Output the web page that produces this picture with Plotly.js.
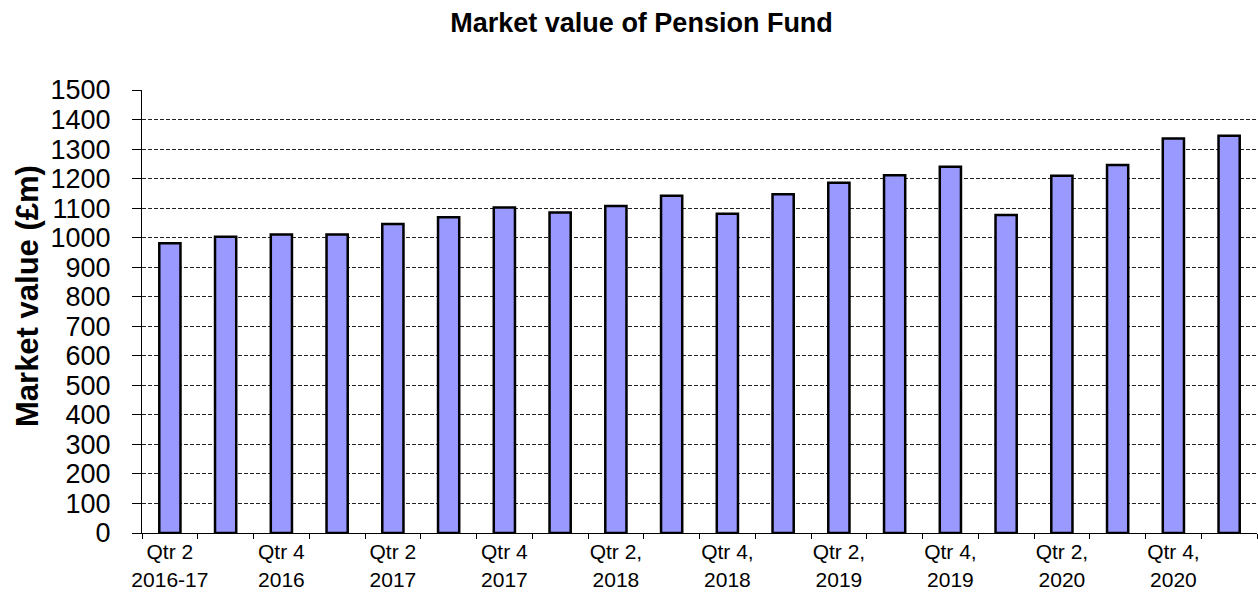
<!DOCTYPE html>
<html>
<head>
<meta charset="utf-8">
<script src="https://cdn.plot.ly/plotly-3.0.1.min.js"></script>
<style>
  html, body { margin: 0; padding: 0; background: #ffffff; }
  #chart { width: 1258px; height: 597px; }
</style>
</head>
<body>
<div id="chart"></div>
<script>
// ---- Data ----
const quarters = [
  'Qtr 2 2016-17', 'Qtr 3 2016', 'Qtr 4 2016', 'Qtr 1 2017',
  'Qtr 2 2017', 'Qtr 3 2017', 'Qtr 4 2017', 'Qtr 1 2018',
  'Qtr 2, 2018', 'Qtr 3, 2018', 'Qtr 4, 2018', 'Qtr 1, 2019',
  'Qtr 2, 2019', 'Qtr 3, 2019', 'Qtr 4, 2019', 'Qtr 1, 2020',
  'Qtr 2, 2020', 'Qtr 3, 2020', 'Qtr 4, 2020', 'Qtr 1, 2021'
];
const marketValue = [
  981, 1003, 1011, 1011,
  1046, 1069, 1102, 1085,
  1107, 1142, 1081, 1147,
  1186, 1211, 1240, 1077,
  1210, 1246, 1336, 1345
];
const tickLabels = [
  'Qtr 2<br>2016-17', '', 'Qtr 4<br>2016', '',
  'Qtr 2<br>2017', '', 'Qtr 4<br>2017', '',
  'Qtr 2,<br>2018', '', 'Qtr 4,<br>2018', '',
  'Qtr 2,<br>2019', '', 'Qtr 4,<br>2019', '',
  'Qtr 2,<br>2020', '', 'Qtr 4,<br>2020', ''
];
const yTicks = [0, 100, 200, 300, 400, 500, 600, 700, 800, 900, 1000, 1100, 1200, 1300, 1400, 1500];

const chartTitle = 'Market value of Pension Fund';
const yTitle = 'Market value (£m)';

const FONT = 'Arial, "Liberation Sans", sans-serif';

const trace = {
  type: 'bar',
  x: quarters,
  y: marketValue,
  marker: { color: '#9999FF', line: { color: '#000000', width: 2.5 } },
  hoverinfo: 'x+y'
};

const layout = {
  width: 1258,
  height: 597,
  margin: { l: 142, r: 1, t: 90, b: 64, pad: 0 },
  paper_bgcolor: '#ffffff',
  plot_bgcolor: '#ffffff',
  showlegend: false,
  bargap: 0.62,
  font: { family: FONT, color: '#000000' },
  title: {
    text: '<b>' + chartTitle + '</b>',
    font: { family: FONT, size: 27, color: '#000000' },
    xref: 'container', x: 0.51, xanchor: 'center',
    yref: 'container', y: 0.978, yanchor: 'top'
  },
  xaxis: {
    type: 'category',
    tickmode: 'array',
    tickvals: quarters,
    ticktext: tickLabels,
    tickson: 'boundaries',
    ticks: 'outside',
    ticklen: 5,
    tickwidth: 1,
    tickcolor: '#000000',
    showline: true,
    linecolor: '#000000',
    linewidth: 1,
    showgrid: false,
    zeroline: false,
    tickangle: 0,
    tickfont: { family: FONT, size: 21, color: '#000000' },
    range: [-0.5, quarters.length - 0.5]
  },
  yaxis: {
    range: [0, 1500],
    tickmode: 'array',
    tickvals: yTicks,
    ticktext: yTicks.map(String),
    ticks: 'outside',
    ticklen: 9,
    tickwidth: 1,
    tickcolor: '#000000',
    ticklabelstandoff: 16,
    showline: true,
    linecolor: '#000000',
    linewidth: 1,
    showgrid: true,
    gridcolor: '#222222',
    gridwidth: 1,
    griddash: '4px,2px',
    zeroline: false,
    tickfont: { family: FONT, size: 27, color: '#000000' }
  },
  annotations: [{
    text: '<b>' + yTitle + '</b>',
    textangle: -90,
    xref: 'paper', x: 0, xanchor: 'center', xshift: -114,
    yref: 'paper', y: 0.535, yanchor: 'middle',
    showarrow: false,
    font: { family: FONT, size: 31, color: '#000000' }
  }]
};

Plotly.newPlot('chart', [trace], layout, { displayModeBar: false, staticPlot: true });
</script>
</body>
</html>
